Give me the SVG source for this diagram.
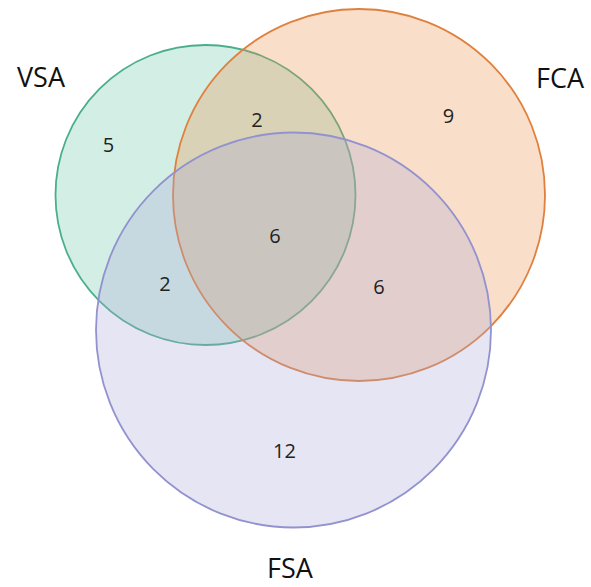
<svg xmlns="http://www.w3.org/2000/svg" width="591" height="587" viewBox="0 0 591 587">
<style>
.set{fill-opacity:0.3;stroke-width:1.8}
.lbl{font-family:"Open Sans","Noto Sans","DejaVu Sans",sans-serif;font-size:27px;fill:#111;text-anchor:middle}
.num{font-family:"Open Sans","Noto Sans","DejaVu Sans",sans-serif;font-size:20px;fill:#222;text-anchor:middle}
</style>
<rect width="591" height="587" fill="#ffffff"/>
<g id="sets">
<g id="VSA"><circle class="set" cx="205.5" cy="195" r="150" fill="#6cc6a5" stroke="#4aae8c"/></g>
<g id="FCA"><circle class="set" cx="359" cy="195" r="186" fill="#eb914b" stroke="#e0803e"/></g>
<g id="FSA"><circle class="set" cx="293.5" cy="330" r="197.5" fill="#a8a8d7" stroke="#9292d0"/></g>
</g>
<g id="connectors"></g>
<g id="labels">
<text class="lbl" x="41" y="87">VSA</text>
<text class="lbl" x="560" y="88">FCA</text>
<text class="lbl" x="290" y="578">FSA</text>
</g>
<g id="counts">
<text class="num" x="108.5" y="152">5</text>
<text class="num" x="257" y="127">2</text>
<text class="num" x="448.5" y="123">9</text>
<text class="num" x="275" y="243">6</text>
<text class="num" x="165" y="291">2</text>
<text class="num" x="379" y="294">6</text>
<text class="num" x="284.5" y="458">12</text>
</g>
</svg>
